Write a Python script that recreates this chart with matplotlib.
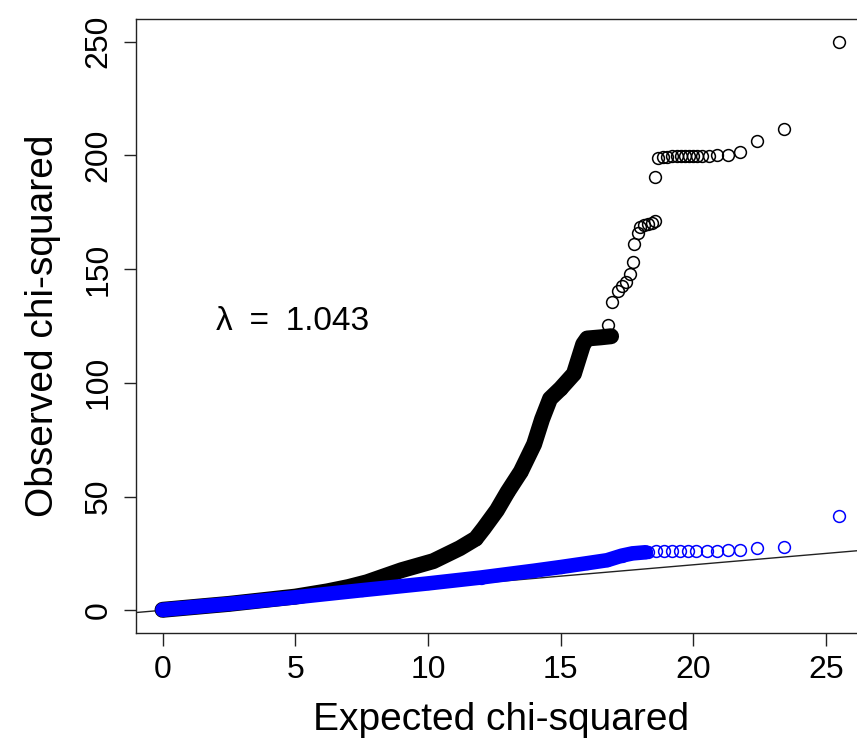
import numpy as np
import matplotlib.pyplot as plt

plt.rcParams.update({
    "font.family": ["Liberation Sans", "DejaVu Sans"],
    "figure.dpi": 100,
})

# dense part of the uncorrected statistics (overlapping points)
black_band_x = [0.0, 2.5, 5.0, 6.2, 7.0, 7.7, 9.0, 10.2, 11.2, 11.8, 12.1, 12.6, 13.0,
                13.5, 14.0, 14.3, 14.6, 15.0, 15.5, 15.85, 16.0, 16.5, 16.9]
black_band_y = [0.2, 2.8, 6.0, 8.3, 10.2, 12.3, 17.6, 21.6, 27.3, 31.5, 36.0, 44.0, 52.0,
                61.0, 73.0, 84.0, 93.0, 97.5, 104.0, 117.0, 119.5, 120.0, 120.5]
# sparse upper tail
black_tail_x = [16.8, 16.95, 17.15, 17.3, 17.45, 17.6, 17.72, 17.75, 17.9, 18.0,
                18.15, 18.3, 18.45, 18.56, 18.56, 18.67, 18.85, 19.0, 19.2, 19.4,
                19.55, 19.7, 19.85, 20.0, 20.15, 20.33, 20.6, 20.9, 21.3, 21.75,
                22.4, 23.4, 25.5]
black_tail_y = [125.5, 135.5, 140.5, 142.5, 144.5, 148.0, 153.0, 161.0, 166.0, 168.5,
                169.5, 170.0, 170.5, 171.2, 190.6, 199.0, 199.3, 199.5, 199.6, 199.6,
                199.7, 199.7, 199.8, 199.8, 199.8, 199.8, 199.9, 200.0, 200.0, 201.6,
                206.2, 211.5, 250.0]

# corrected statistics
blue_band_x = [0.0, 2.5, 5.0, 7.5, 10.0, 12.0, 14.0, 15.0, 16.0, 16.75, 17.3, 17.7, 18.2]
blue_band_y = [0.2, 2.8, 5.7, 8.8, 11.8, 14.4, 17.4, 19.0, 20.7, 22.0, 24.0, 25.0, 25.5]
blue_tail_x = [18.3, 18.6, 18.9, 19.2, 19.5, 19.8, 20.1, 20.5, 20.9, 21.3, 21.77,
               22.4, 23.4, 25.5]
blue_tail_y = [25.7, 25.9, 26.0, 26.0, 26.1, 26.1, 26.1, 26.1, 26.1, 26.4, 26.7,
               27.2, 27.9, 41.4]

LAMBDA = 1.043

fig = plt.figure(figsize=(8.57, 7.51))
ax = fig.add_axes([136 / 857, 1 - 633 / 751, 730.4 / 857, 614 / 751])

# reference line y = x
ax.axline((0, 0), slope=1, color="#222222", lw=1.0, zorder=1)

mk = dict(marker="o", ms=8.5, mfc="none", mew=1.1, ls="none")
ax.plot(black_band_x, black_band_y, color="black", lw=11.5,
        solid_capstyle="round", solid_joinstyle="round", zorder=2)
ax.plot(black_band_x, black_band_y, color="black", zorder=2, **mk)
ax.plot(black_tail_x, black_tail_y, color="black", zorder=2, **mk)

ax.plot(blue_band_x, blue_band_y, color="#0000FF", lw=10.5,
        solid_capstyle="round", solid_joinstyle="round", zorder=3)
ax.plot(blue_band_x, blue_band_y, color="#0000FF", zorder=3, **mk)
ax.plot(blue_tail_x, blue_tail_y, color="#0000FF", zorder=3, **mk)

ax.text(2.0, 127, "λ\u2002=\u2002" + f"{LAMBDA:.3f}", fontsize=24,
        ha="left", va="center")

ax.set_xlim(-1.0, 26.52)
ax.set_ylim(-10, 260)
ax.set_xticks([0, 5, 10, 15, 20, 25])
ax.set_yticks([0, 50, 100, 150, 200, 250])

for s in ax.spines.values():
    s.set_linewidth(1.0)
    s.set_color("#222222")
ax.tick_params(direction="out", length=9, width=1.0, color="#222222",
               labelsize=23, pad=7)
ax.tick_params(axis="y", labelrotation=90)
for lab in ax.get_yticklabels():
    lab.set_va("center")

ax.set_xlabel("Expected chi-squared", fontsize=28)
ax.set_ylabel("Observed chi-squared", fontsize=28)
ax.xaxis.set_label_coords(0.5, -0.142)
ax.xaxis.label.set_va("center")
ax.yaxis.set_label_coords(-0.128, 0.5)
ax.yaxis.label.set_va("center")

fig.savefig("out.png", dpi=100)
